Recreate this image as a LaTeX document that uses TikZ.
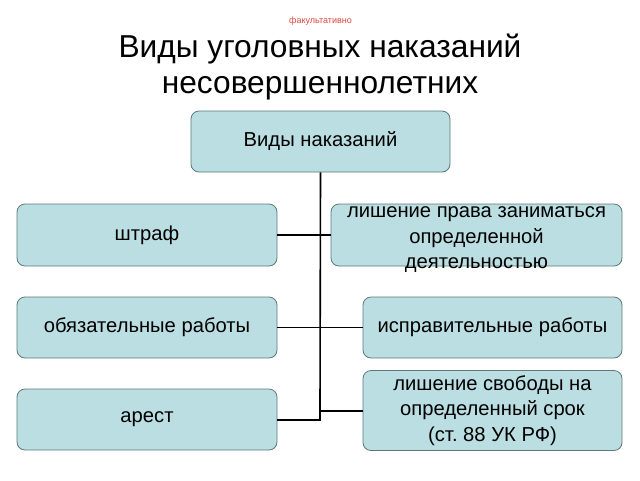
\documentclass[tikz,border=0pt]{standalone}
\usepackage{fontspec}
\setmainfont{Liberation Sans}
\frenchspacing
\definecolor{boxfill}{RGB}{186,222,226}
\definecolor{boxline}{RGB}{95,120,122}
\definecolor{redtxt}{RGB}{220,70,60}
\begin{document}
\begin{tikzpicture}[x=1pt,y=-1pt,
  box/.style={draw=boxline, line width=0.8pt, fill=boxfill, rounded corners=8pt,
    align=center, font=\fontsize{20.2}{25.5}\selectfont, inner sep=0pt},
  conn/.style={line width=1.6pt, black}]
\useasboundingbox (0,0) rectangle (640,480);
\node[text=redtxt, font=\fontsize{9}{11}\selectfont] (opt) at (320.5,21) {факультативно};
\node[align=center, font=\fontsize{31.7}{36}\selectfont] (title) at (320,67.5) {Виды уголовных наказаний\\несовершеннолетних};
% boxes
\node[box, minimum width=259pt, minimum height=61pt] (root) at (320.5,141.5) {Виды наказаний};
\node[box, minimum width=260pt, minimum height=62pt] (l1) at (147,235) {штраф};
\node[box, minimum width=260pt, minimum height=61pt] (l2) at (147,327.5) {обязательные работы};
\node[box, minimum width=260pt, minimum height=61pt] (l3) at (147,419.5) {арест};
\node[box, minimum width=291pt, minimum height=62pt] (r1) at (476.5,235) {};
\node[font=\fontsize{20.2}{25.5}\selectfont, align=center] (r1t) at (476.5,240) {лишение права заниматься\\определенной\\деятельностью};
\node[box, minimum width=259pt, minimum height=61pt] (r2) at (492.5,327.5) {исправительные работы};
\node[box, minimum width=259pt, minimum height=80pt] (r3) at (492.5,410.5) {лишение свободы на\\определенный срок\\(ст. 88 УК РФ)};
% connectors
\coordinate (bot) at (320,411);
\coordinate (jog) at (320,420);
\draw[conn] (root.south) -- (bot);
\draw[conn] (l1.east) -- (r1.west);
\draw[conn] (l2.east) -- (r2.west);
\draw[conn] (l3.east |- jog) -- (jog) -- (bot) -- (r3.west |- bot);
\end{tikzpicture}
\end{document}
